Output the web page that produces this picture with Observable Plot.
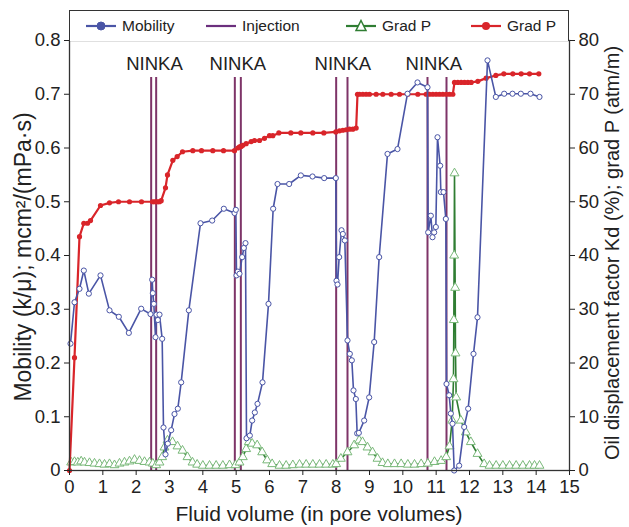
<!DOCTYPE html>
<html><head><meta charset="utf-8">
<script src="https://cdn.jsdelivr.net/npm/d3@7"></script>
<script src="https://cdn.jsdelivr.net/npm/@observablehq/plot@0.6"></script>
<style>
body{margin:0;background:#fff;font-family:"Liberation Sans",Arial,sans-serif;}
#wrap{position:relative;width:629px;height:527px;}
#legend{position:absolute;left:69px;top:10px;width:500px;height:31px;border:1.3px solid #333;border-bottom:none;box-sizing:border-box;font-size:15.5px;color:#222;background:#fff;}
.item{position:absolute;top:0;height:30px;display:flex;align-items:center;}
.item svg{margin-right:6px;}
</style></head><body>
<div id="wrap"><div id="legend"></div></div>
<script>
// Mobility (left axis)
const mobX = [0.03,0.15,0.3,0.43,0.58,0.93,1.2,1.48,1.78,2.15,2.43,2.48,2.5,2.53,2.58,2.61,2.65,2.7,2.78,2.82,2.88,2.95,3.05,3.15,3.25,3.35,3.58,3.93,4.28,4.63,4.95,4.99,5.01,5.05,5.1,5.18,5.23,5.28,5.31,5.41,5.48,5.56,5.64,5.79,5.97,6.11,6.24,6.59,6.94,7.29,7.64,7.99,8.01,8.04,8.09,8.16,8.2,8.26,8.34,8.41,8.47,8.52,8.59,8.63,8.68,8.84,8.99,9.14,9.29,9.54,9.84,10.14,10.44,10.74,10.76,10.84,10.89,10.94,10.99,11.04,11.12,11.14,11.22,11.29,11.31,11.39,11.44,11.49,11.54,11.69,11.84,11.96,12.12,12.24,12.54,12.79,13.04,13.29,13.54,13.83,14.1];
const mobY = [0.236,0.313,0.338,0.372,0.329,0.363,0.298,0.286,0.256,0.301,0.291,0.355,0.33,0.31,0.248,0.29,0.28,0.29,0.245,0.08,0.03,0.05,0.075,0.105,0.115,0.164,0.298,0.46,0.465,0.487,0.479,0.485,0.363,0.37,0.366,0.397,0.414,0.423,0.06,0.065,0.093,0.108,0.124,0.164,0.31,0.487,0.533,0.533,0.549,0.547,0.544,0.544,0.353,0.346,0.397,0.447,0.44,0.428,0.242,0.217,0.205,0.149,0.133,0.069,0.07,0.093,0.136,0.239,0.397,0.589,0.598,0.701,0.722,0.713,0.443,0.474,0.434,0.443,0.453,0.62,0.567,0.518,0.518,0.468,0.161,0.14,0.106,0.087,0.0,0.009,0.081,0.115,0.217,0.285,0.763,0.695,0.701,0.701,0.701,0.701,0.695];
// Grad P red (right axis, atm/m)
const redX = [0,0.15,0.3,0.43,0.54,0.63,0.93,1.2,1.47,1.8,2.16,2.49,2.55,2.6,2.65,2.7,2.75,2.88,2.94,3.1,3.23,3.39,3.7,3.96,4.3,4.62,4.95,5.05,5.1,5.15,5.2,5.3,5.45,5.55,5.7,5.85,6.0,6.1,6.28,6.64,6.94,7.3,7.63,7.99,8.1,8.2,8.3,8.4,8.5,8.6,8.64,8.7,8.8,8.9,9.0,9.2,9.4,9.65,9.9,10.15,10.45,10.7,10.8,10.9,11.0,11.1,11.2,11.3,11.4,11.5,11.55,11.65,11.75,11.85,11.95,12.05,12.25,12.5,12.79,13.03,13.3,13.55,13.8,14.08];
const redY = [0,21,43.5,46,46,46.5,49.3,49.8,50,50,50,50,50,50,50,50,50.2,52.6,55,57.7,58.4,59.3,59.5,59.5,59.5,59.5,59.5,60,60.2,60.3,60.5,60.8,61.2,61.4,61.4,61.8,62.3,62.3,62.8,62.8,62.8,62.8,62.8,63,63.2,63.3,63.4,63.5,63.5,63.7,70,70,70,70,70,70,70,70,70,70,70,70,70,70,70,70,70,70,70,70,72.2,72.2,72.2,72.2,72.2,72.2,72.4,73,73.5,73.8,73.8,73.8,73.8,73.8];
// Grad P green (right axis)
const greenX = [0.05,0.15,0.25,0.35,0.45,0.6,0.75,0.9,1.05,1.2,1.35,1.5,1.65,1.8,1.95,2.1,2.25,2.4,2.5,2.6,2.7,2.78,2.85,2.94,3.09,3.24,3.39,3.54,3.69,3.83,4.0,4.2,4.4,4.6,4.8,4.98,5.1,5.2,5.3,5.38,5.48,5.63,5.78,5.93,6.08,6.3,6.5,6.7,6.9,7.1,7.3,7.5,7.7,7.9,8.0,8.14,8.34,8.54,8.69,8.79,8.94,9.09,9.24,9.39,9.55,9.75,9.95,10.15,10.35,10.55,10.75,10.95,11.15,11.3,11.4,11.48,11.52,11.53,11.54,11.55,11.57,11.58,11.6,11.74,11.89,12.04,12.24,12.44,12.6,12.8,13.0,13.2,13.4,13.6,13.8,13.95,14.1];
const greenY = [1.5,1.6,1.5,1.7,1.5,1.4,1.3,1.2,1.1,1.2,1.0,1.3,1.5,1.7,2.0,1.8,1.6,1.5,1.3,1.0,1.5,2.5,4.3,5.6,5.3,4.5,3.7,2.5,1.5,1.1,0.9,0.9,0.9,0.9,1.0,1.0,1.5,2.5,4.0,5.3,5.0,4.7,3.4,1.9,1.2,0.9,0.9,1.0,1.1,1.1,1.1,1.1,1.1,1.1,1.2,2.2,3.4,4.7,5.6,5.3,4.3,3.4,2.2,1.4,1.2,1.2,1.2,1.1,1.1,1.2,1.3,1.6,1.8,2.5,4.5,9.3,17,28,40,55.3,34,21.8,13.6,9.3,7.1,5.3,3.1,1.2,0.9,0.9,0.9,0.9,0.9,0.9,0.9,0.9,0.9];
// Injection events
const injectionX = [2.45,2.6,4.96,5.14,8.0,8.34,10.74,11.31];
const injectionTop = 0.731;
const ninkaX = [2.55,5.05,8.2,10.93];
const ninkaLabel = "NINKA";
const xTicks = [0,1,2,3,4,5,6,7,8,9,10,11,12,13,14,15];
const yTicks = [0,0.1,0.2,0.3,0.4,0.5,0.6,0.7,0.8];

const C = {mob:"#4a55a6", inj:"#7e3468", green:"#2f7d32", greenMk:"#79b879", red:"#d9252a"};

const mob = mobX.map((x,i)=>({x, y:mobY[i]}));
const red = redX.map((x,i)=>({x, y:redY[i]/100}));
const green = greenX.map((x,i)=>({x, y:greenY[i]/100}));

const chart = Plot.plot({
  width:629, height:527,
  marginLeft:69, marginRight:60, marginTop:40, marginBottom:57,
  style:{fontSize:"18.5px", fontFamily:"'Liberation Sans', Arial, sans-serif", color:"#222", background:"transparent"},
  x:{domain:[0,15]},
  y:{domain:[0,0.8]},
  marks:[
    Plot.ruleX(injectionX, {x:d=>d, y1:0, y2:injectionTop, stroke:C.inj, strokeWidth:2}),
    Plot.text(ninkaX, {x:d=>d, y:0.757, text:()=>ninkaLabel, fontSize:18.5, fill:"#222"}),
    Plot.line(green, {x:"x", y:"y", stroke:C.green, strokeWidth:1.6}),
    Plot.dot(green, {x:"x", y:"y", symbol:"triangle", r:3.3, stroke:C.greenMk, fill:"white", strokeWidth:1}),
    Plot.line(red, {x:"x", y:"y", stroke:C.red, strokeWidth:2.2}),
    Plot.dot(red, {x:"x", y:"y", r:2.6, fill:C.red}),
    Plot.line(mob, {x:"x", y:"y", stroke:C.mob, strokeWidth:1.6}),
    Plot.dot(mob, {x:"x", y:"y", r:2.6, stroke:C.mob, fill:"white", strokeWidth:1}),
    Plot.frame({stroke:"#333", strokeWidth:1.3}),
    Plot.axisX({ticks:xTicks, tickSize:5, tickPadding:4, label:null, tickFormat:d=>String(d)}),
    Plot.axisY({anchor:"left", ticks:yTicks, tickSize:5, tickPadding:4, label:null, tickFormat:d=>d===0?"0":d.toFixed(1)}),
    Plot.axisY({anchor:"right", ticks:yTicks, tickSize:5, tickPadding:4, label:null, tickFormat:d=>String(Math.round(d*100))})
  ]
});
document.getElementById("wrap").insertBefore(chart, document.getElementById("legend"));
chart.style.position="absolute"; chart.style.left="0"; chart.style.top="0";

const svg = d3.select(chart);
const tg = svg.append("g").attr("fill","#222").attr("font-family","'Liberation Sans', Arial, sans-serif");
tg.append("text").attr("x",319).attr("y",521).attr("text-anchor","middle").attr("font-size","21px").text("Fluid volume (in pore volumes)");
tg.append("text").attr("transform","translate(31,257) rotate(-90)").attr("text-anchor","middle").attr("font-size","23px").text("Mobility (k/\u03bc); mcm\u00b2/(mPa\u00b7s)");
tg.append("text").attr("transform","translate(619,253) rotate(-90)").attr("text-anchor","middle").attr("font-size","20px").text("Oil displacement factor Kd (%); grad P (atm/m)");

// Legend
const legendItems = [
  {label:"Mobility", color:C.mob, marker:"circle-open", left:16},
  {label:"Injection", color:"#6b2f7d", marker:"none", left:136},
  {label:"Grad P", color:C.green, marker:"triangle", left:276},
  {label:"Grad P", color:C.red, marker:"circle", left:401}
];
const lg = d3.select("#legend");
legendItems.forEach(it=>{
  const d = lg.append("div").attr("class","item").style("left",it.left+"px");
  const s = d.append("svg").attr("width",30).attr("height",14);
  s.append("line").attr("x1",0).attr("x2",30).attr("y1",7).attr("y2",7).attr("stroke",it.color).attr("stroke-width",2.2);
  if(it.marker==="circle-open") s.append("circle").attr("cx",15).attr("cy",7).attr("r",4).attr("fill",it.color).attr("stroke",it.color);
  if(it.marker==="circle") s.append("circle").attr("cx",15).attr("cy",7).attr("r",4).attr("fill",it.color);
  if(it.marker==="triangle") s.append("path").attr("d","M15,1.5L20,11.5L10,11.5Z").attr("fill","white").attr("stroke",it.color).attr("stroke-width",1.5);
  d.append("span").text(it.label);
});
</script>
</body></html>
